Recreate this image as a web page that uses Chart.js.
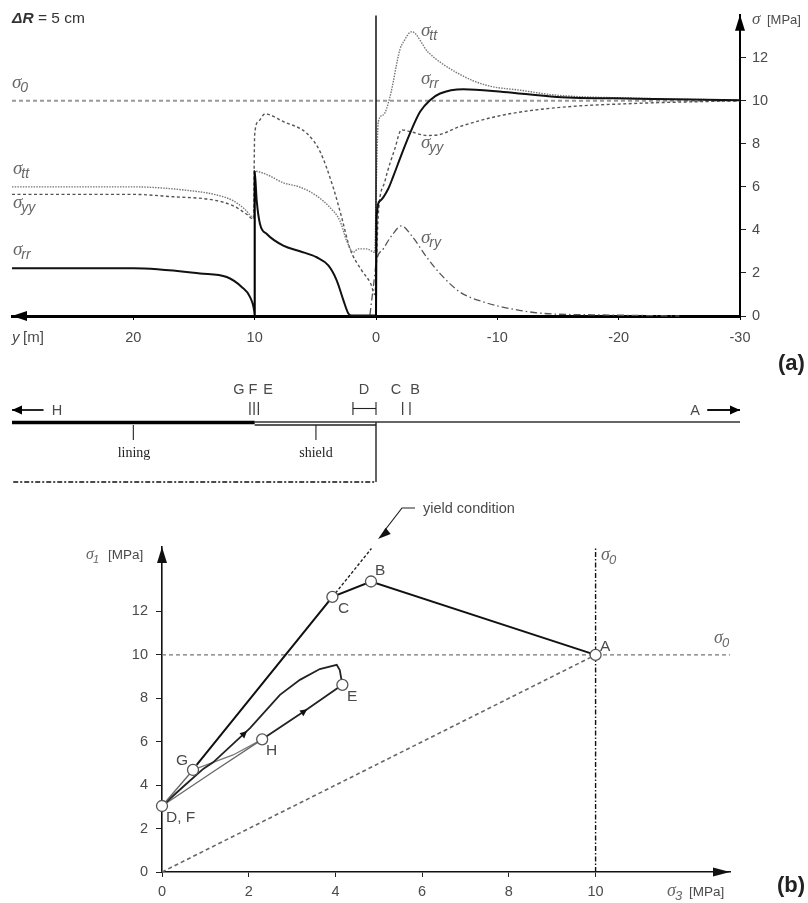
<!DOCTYPE html>
<html>
<head>
<meta charset="utf-8">
<script src="https://cdn.jsdelivr.net/npm/chart.js@4/dist/chart.umd.js"></script>
<style>
html,body{margin:0;padding:0;background:#fff;width:808px;height:903px;overflow:hidden}
canvas{position:absolute;left:0;filter:blur(0.6px)}
#top{top:0}#mid{top:370px}#bot{top:490px}
</style>
</head>
<body>
<canvas id="top" width="808" height="380"></canvas>
<canvas id="mid" width="808" height="130"></canvas>
<canvas id="bot" width="808" height="413"></canvas>
<script>
// ---------- (a) stresses along the tunnel axis ----------
const topXTicks = [20, 10, 0, -10, -20, -30];
const topYTicks = [0, 2, 4, 6, 8, 10, 12];

const rrY = [30,20,14.5,12.3,11.07,10.39,10.03,10,10,9.83,9.56,9,7.64,6.27,4.89,3.93,3.24,2.69,2.28,2,0.1,0,-0.05,-0.33,-1,-1.43,-2.1,-2.8,-3.63,-4.45,-5.28,-7.2,-10.5,-14.9,-21.5,-30];
const rrS = [2.22,2.22,1.98,1.81,1.35,0.89,0.2,0.02,6.73,5.35,4.27,3.81,3.27,3.01,2.73,2.35,1.66,0.74,0.12,0.02,0.02,0.02,4.57,5.35,5.9,6.5,7.5,8.49,9.49,10.03,10.34,10.54,10.41,10.18,10.1,10.03];

const ttY = [30,20,15.6,13.1,11.76,10.8,10.1,10,9,7.64,6.27,4.89,3.79,2.97,2.42,1.87,1.46,0.77,0.1,-0.02,-0.19,-0.6,-1.15,-1.98,-2.25,-2.94,-4.3,-6.8,-9.1,-11.9,-14.9,-21.5,-30];
const ttS = [6,6,5.84,5.62,5.35,4.96,4.58,6.73,6.57,6.19,5.99,5.58,5.04,4.42,3.5,2.96,3.12,3.12,2.96,6,9.03,9.34,10.18,12.4,12.72,13.21,12.26,11.26,10.72,10.49,10.26,10.12,10.03];

const yyY = [30,20,16.7,13.4,11.76,10.66,10.1,10,9.7,9.15,7.64,5.71,4.62,3.52,2.83,2.14,1.18,0.44,0.1,-0.19,-0.74,-1.57,-2.1,-2.8,-4.18,-5.14,-6.9,-10.5,-14.9,-21.5,-30];
const yyS = [5.65,5.65,5.54,5.39,5.12,4.73,4.5,8.42,9.03,9.39,9.03,8.49,7.65,5.96,4.58,3.12,2.12,1.51,1.0,4.73,6.27,7.8,8.65,8.57,8.39,8.42,8.8,9.34,9.68,9.88,10];

const ryY = [0.5,0.22,-0.05,-0.6,-1.29,-2.1,-2.94,-4.18,-5.28,-6.9,-9.1,-11,-13.8,-18.7,-25];
const ryS = [0.05,1.35,2.58,3.12,3.73,4.19,3.73,2.73,1.97,1.12,0.61,0.35,0.12,0.05,0];

const initialY = [30, -30];
const initialS = [10, 10];
const faceY = [0, 0];
const faceS = [0, 13.96];
const liningEndY = [10, 10];
const liningEndS = [0, 6.73];

// ---------- schematic of the tunnel, sharing the y [m] axis of (a) ----------
const liningX = [30, 10];
const groundX = [10, -30];
const shieldX = [10, 0];
const baseX = [29.9, 0];
const liningTickX = 20;
const shieldTickX = 4.95;
const gfeX = [10.39, 10.05, 9.7];
const cbX = [-2.2, -2.8];
const dRangeX = [1.9, 0];

// ---------- (b) stress path ----------
const botXTicks = [0, 2, 4, 6, 8, 10];
const botYTicks = [0, 2, 4, 6, 8, 10, 12];

const loadS3 = [10, 4.82, 3.93, 0.8];
const loadS1 = [10, 13.38, 12.67, 4.93];
const gdS3 = [0.715, 0];
const gdS1 = [4.7, 3.04];
const reloadS3 = [0, 0.5, 0.95, 1.18, 2.03, 2.72, 3.18, 3.64, 4.03, 4.1, 4.16];
const reloadS1 = [3.04, 3.95, 4.75, 5.05, 6.63, 8.16, 8.85, 9.35, 9.54, 9.3, 8.62];
const unloadS3 = [4.16, 3.28, 2.31];
const unloadS1 = [8.62, 7.4, 6.11];
const hdS3 = [2.31, 1.18, 0];
const hdS1 = [6.11, 4.62, 3.04];
const hgS3 = [2.31, 1.64, 0.715];
const hgS1 = [6.11, 5.39, 4.7];
const yieldS3 = [3.93, 4.83];
const yieldS1 = [12.67, 14.9];
const hydroS3 = [0, 10];
const hydroS1 = [0, 10];
const sig0HS3 = [0, 13.1];
const sig0HS1 = [10, 10];
const sig0VS3 = [10, 10];
const sig0VS1 = [0, 14.9];
const pointNames = ['A','B','C','G','D, F','E','H'];
const pointS3 = [10, 4.82, 3.93, 0.715, 0, 4.16, 2.31];
const pointS1 = [10, 13.38, 12.67, 4.7, 3.04, 8.62, 6.11];

// ---------- helpers ----------
const zip = (xs, ys) => xs.map((x, i) => ({x, y: ys[i]}));
const SANS = '"Liberation Sans", Arial, sans-serif';
const INK = '#4a4a4a';
const line = (xs, ys, color, width, dash, extra) => Object.assign({
  data: zip(xs, ys), borderColor: color, borderWidth: width, borderDash: dash || [],
  pointRadius: 0, fill: false, tension: 0, clip: false, borderCapStyle: 'butt'
}, extra || {});
const smooth = {cubicInterpolationMode: 'monotone'};

function arrowHead(ctx, x, y, angle, len, half, color) {
  ctx.save(); ctx.translate(x, y); ctx.rotate(angle);
  ctx.fillStyle = color || '#000';
  ctx.beginPath(); ctx.moveTo(0, 0); ctx.lineTo(-len, -half); ctx.lineTo(-len, half); ctx.closePath(); ctx.fill();
  ctx.restore();
}
function txt(ctx, s, x, y, font, color, align) {
  ctx.font = font; ctx.fillStyle = color || INK; ctx.textAlign = align || 'left';
  ctx.textBaseline = 'alphabetic'; ctx.fillText(s, x, y);
}
function sigma(ctx, x, y, sub, size) {
  const f = size || 19;
  txt(ctx, 'σ', x, y, 'italic ' + f + 'px "Liberation Serif", serif', '#666');
  const w = ctx.measureText('σ').width;
  txt(ctx, sub, x + w - 1, y + 4, 'italic ' + (f - 5) + 'px ' + SANS, '#666');
}
const fixedTicks = list => scale => { scale.ticks = list.map(value => ({value})); };
function axis(over) {
  return Object.assign({type: 'linear', bounds: 'ticks'}, over);
}
const tickFont = {family: 'Liberation Sans', size: 14.5};

// ---------- chart (a) ----------
new Chart(document.getElementById('top'), {
  type: 'line',
  data: {datasets: [
    line(faceY, faceS, '#000', 1.4),
    line(liningEndY, liningEndS, '#000', 1.4),
    line(rrY, rrS, '#111', 2, [], smooth),
    line(ttY, ttS, '#777', 1.4, [1.5, 1.2], smooth),
    line(yyY, yyS, '#555', 1.4, [3, 2.5], smooth),
    line(ryY, ryS, '#555', 1.3, [7, 3, 1.5, 3], smooth),
    line(initialY, initialS, '#999', 2, [4, 3])
  ]},
  options: {
    responsive: false, animation: false, events: [],
    layout: {padding: {left: 12, top: 12, right: 0, bottom: 0}},
    plugins: {legend: {display: false}, tooltip: {enabled: false}},
    scales: {
      x: axis({position: 'bottom', reverse: true, min: -30, max: 30,
        afterBuildTicks: fixedTicks(topXTicks),
        afterFit: s => { s.height = 64; },
        border: {color: '#000', width: 3},
        grid: {drawOnChartArea: false, tickLength: 4, color: '#000'},
        ticks: {color: INK, font: tickFont, padding: 9, maxRotation: 0, autoSkip: false}}),
      y: axis({position: 'right', min: 0, max: 14,
        afterBuildTicks: fixedTicks(topYTicks),
        afterFit: s => { s.width = 68; },
        border: {color: '#000', width: 2},
        grid: {drawOnChartArea: false, tickLength: 6, color: '#222'},
        ticks: {color: INK, font: tickFont, padding: 6, autoSkip: false}})
    }
  },
  plugins: [{id: 'topNotes', afterDraw(c) {
    const ctx = c.ctx, a = c.chartArea;
    arrowHead(ctx, a.left, a.bottom, Math.PI, 15, 5);
    arrowHead(ctx, a.right, a.top, -Math.PI / 2, 16, 5);
    txt(ctx, 'ΔR', 12, 23, 'italic bold 15.5px ' + SANS, '#333');
    txt(ctx, '= 5 cm', 38, 23, '15.5px ' + SANS, '#333');
    sigma(ctx, 12, 88, '0'); sigma(ctx, 13, 174, 'tt'); sigma(ctx, 13, 208, 'yy'); sigma(ctx, 13, 255, 'rr');
    sigma(ctx, 421, 36, 'tt'); sigma(ctx, 421, 84, 'rr'); sigma(ctx, 421, 148, 'yy'); sigma(ctx, 421, 243, 'ry');
    txt(ctx, 'y', 12, 342, 'italic 15px ' + SANS);
    txt(ctx, '[m]', 23, 342, '15px ' + SANS);
    txt(ctx, 'σ', 752, 24, 'italic 17px "Liberation Serif", serif', '#555');
    txt(ctx, '[MPa]', 767, 24, '13px ' + SANS);
    txt(ctx, '(a)', 778, 370, 'bold 22px ' + SANS, '#222');
  }}]
});

// ---------- schematic ----------
const groundV = 60, shieldV = 57, baseV = 0, tickLowV = 42, markLowV = 67, markHighV = 80, arrowV = 72;
const tickDs = xs => xs.map(x => line([x, x], [markLowV, markHighV], '#222', 1.1));
new Chart(document.getElementById('mid'), {
  type: 'line',
  data: {datasets: [
    line(liningX, [groundV - 0.5, groundV - 0.5], '#000', 3.5),
    line(groundX, [groundV, groundV], '#333', 1.3),
    line(shieldX, [shieldV, shieldV], '#222', 1.3),
    line([0, 0], [shieldV + 3, baseV], '#111', 1.3),
    line(baseX, [baseV, baseV], '#111', 1.5, [5, 2, 2, 2]),
    line([liningTickX, liningTickX], [shieldV, tickLowV], '#222', 1.1),
    line([shieldTickX, shieldTickX], [shieldV, tickLowV], '#222', 1.1),
    ...tickDs(gfeX), ...tickDs(cbX), ...tickDs(dRangeX),
    line(dRangeX, [73.5, 73.5], '#222', 1.1),
    line([30, 27.4], [arrowV, arrowV], '#111', 1.8),
    line([-27.3, -30], [arrowV, arrowV], '#111', 1.8)
  ]},
  options: {
    responsive: false, animation: false, events: [],
    layout: {padding: {left: 12, top: 0, right: 68, bottom: 18}},
    plugins: {legend: {display: false}, tooltip: {enabled: false}},
    scales: {
      x: {type: 'linear', display: false, reverse: true, min: -30, max: 30},
      y: {type: 'linear', display: false, min: 0, max: 112}
    }
  },
  plugins: [{id: 'midNotes', afterDraw(c) {
    const ctx = c.ctx, sx = c.scales.x, sy = c.scales.y;
    arrowHead(ctx, sx.getPixelForValue(30), sy.getPixelForValue(arrowV), Math.PI, 10, 4.5);
    arrowHead(ctx, sx.getPixelForValue(-30), sy.getPixelForValue(arrowV), 0, 10, 4.5);
    const f = '14.5px ' + SANS;
    [['G', 239], ['F', 253], ['E', 268], ['D', 364], ['C', 396], ['B', 415]].forEach(([s, x]) => txt(ctx, s, x, 24, f, INK, 'center'));
    txt(ctx, 'H', 57, 45, f, INK, 'center');
    txt(ctx, 'A', 695, 45, f, INK, 'center');
    const serif = '14px "Liberation Serif", serif';
    txt(ctx, 'lining', 134, 87, serif, '#222', 'center');
    txt(ctx, 'shield', 316, 87, serif, '#222', 'center');
  }}]
});

// ---------- chart (b) ----------
new Chart(document.getElementById('bot'), {
  type: 'line',
  data: {datasets: [
    {data: zip(pointS3, pointS1), showLine: false, pointRadius: 5.5, pointBackgroundColor: '#fff',
     pointBorderColor: '#555', pointBorderWidth: 1.3, clip: false},
    line(loadS3, loadS1, '#111', 2),
    line(gdS3, gdS1, '#666', 1.3),
    line(reloadS3, reloadS1, '#222', 1.8),
    line(unloadS3, unloadS1, '#222', 1.8),
    line(hdS3, hdS1, '#666', 1.3),
    line(hgS3, hgS1, '#777', 1.3),
    line(yieldS3, yieldS1, '#222', 1.4, [3, 2]),
    line(hydroS3, hydroS1, '#666', 1.6, [4, 3]),
    line(sig0HS3, sig0HS1, '#777', 1.4, [4, 3]),
    line(sig0VS3, sig0VS1, '#111', 1.4, [5, 2, 1.5, 2])
  ]},
  options: {
    responsive: false, animation: false, events: [],
    layout: {padding: {left: 0, top: 57, right: 78, bottom: 0}},
    plugins: {legend: {display: false}, tooltip: {enabled: false}},
    scales: {
      x: axis({position: 'bottom', min: 0, max: 13.1,
        afterBuildTicks: fixedTicks(botXTicks),
        afterFit: s => { s.height = 31; },
        border: {color: '#111', width: 1.6},
        grid: {drawOnChartArea: false, tickLength: 5, color: '#222'},
        ticks: {color: INK, font: tickFont, padding: 6, autoSkip: false, maxRotation: 0}}),
      y: axis({position: 'left', min: 0, max: 14.97,
        afterBuildTicks: fixedTicks(botYTicks),
        afterFit: s => { s.width = 162; },
        border: {color: '#111', width: 1.6},
        grid: {drawOnChartArea: false, tickLength: 6, color: '#222'},
        ticks: {color: INK, font: tickFont, padding: 8, autoSkip: false}})
    }
  },
  plugins: [{id: 'botNotes', afterDraw(c) {
    const ctx = c.ctx, a = c.chartArea, sx = c.scales.x, sy = c.scales.y;
    const px = v => sx.getPixelForValue(v), py = v => sy.getPixelForValue(v);
    arrowHead(ctx, a.right, a.bottom, 0, 17, 4.5, '#111');
    arrowHead(ctx, a.left, a.top, -Math.PI / 2, 16, 5, '#111');
    // path direction arrows
    const dir = (x0, y0, x1, y1) => Math.atan2(py(y1) - py(y0), px(x1) - px(x0));
    arrowHead(ctx, px(reloadS3[4]) - 3, py(reloadS1[4]) + 3, dir(reloadS3[3], reloadS1[3], reloadS3[4], reloadS1[4]), 7, 3.5, '#111');
    arrowHead(ctx, px(unloadS3[1]) + 3, py(unloadS1[1]) - 2, dir(unloadS3[2], unloadS1[2], unloadS3[0], unloadS1[0]), 7, 3.5, '#111');
    // yield condition leader (page y minus 490)
    ctx.strokeStyle = '#222'; ctx.lineWidth = 1.2;
    ctx.beginPath(); ctx.moveTo(385, 40); ctx.lineTo(402, 18); ctx.lineTo(415, 18); ctx.stroke();
    arrowHead(ctx, 378, 49, Math.atan2(49 - 38, 378 - 392), 13, 4, '#111');
    txt(ctx, 'yield condition', 423, 23, '14.5px ' + SANS);
    // point names
    const f = '15.5px ' + SANS;
    txt(ctx, pointNames[0], 600, 161, f);
    txt(ctx, pointNames[1], 375, 85, f);
    txt(ctx, pointNames[2], 338, 123, f);
    txt(ctx, pointNames[3], 176, 275, f);
    txt(ctx, pointNames[4], 166, 332, f);
    txt(ctx, pointNames[5], 347, 211, f);
    txt(ctx, pointNames[6], 266, 265, f);
    sigma(ctx, 86, 69, '1', 16);
    txt(ctx, '[MPa]', 108, 69, '13.5px ' + SANS);
    sigma(ctx, 601, 70, '0', 18);
    sigma(ctx, 714, 153, '0', 18);
    sigma(ctx, 667, 406, '3', 18);
    txt(ctx, '[MPa]', 689, 406, '13.5px ' + SANS);
    txt(ctx, '(b)', 777, 402, 'bold 22px ' + SANS, '#222');
  }}]
});
</script>
</body>
</html>
